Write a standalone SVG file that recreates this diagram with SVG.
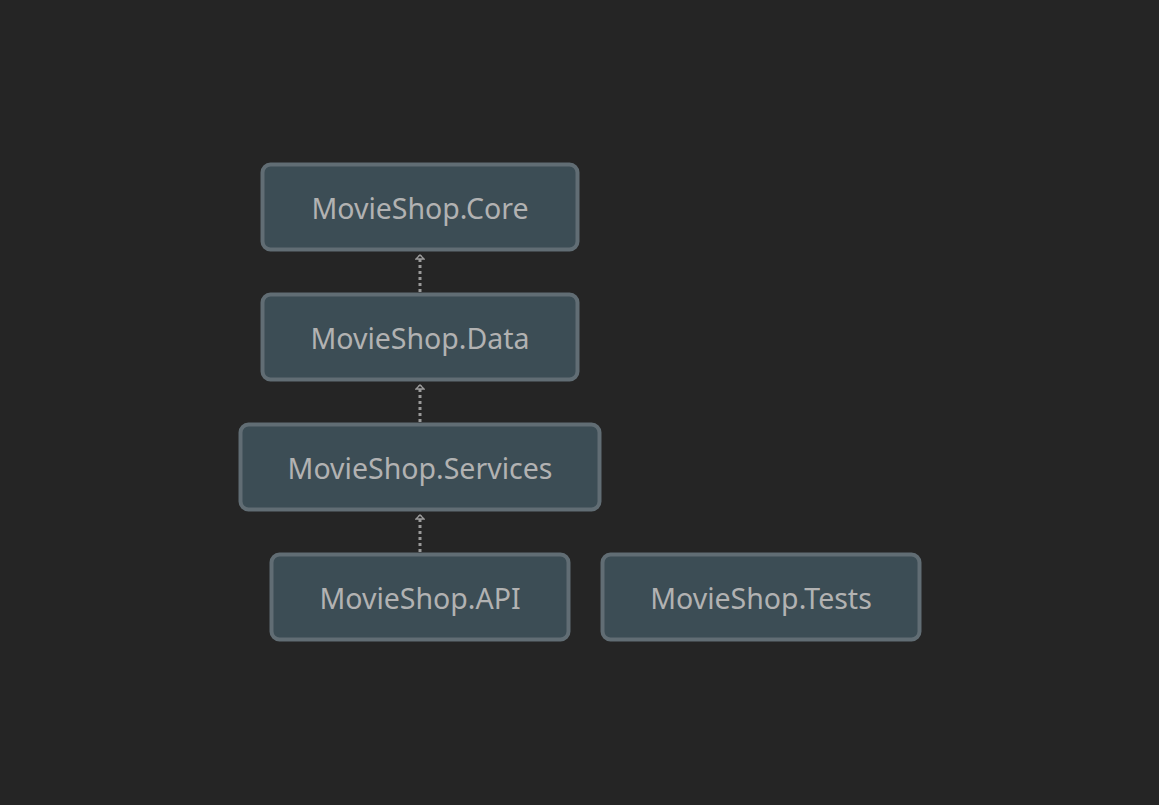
<svg xmlns="http://www.w3.org/2000/svg" width="1159" height="805" viewBox="0 0 1159 805">
<style>
.n rect{fill:#3c4d55;stroke:#616d74;stroke-width:4}
.n text{font-family:"Noto Sans","Open Sans",sans-serif;font-size:28.5px;fill:#b2b2b2;text-anchor:middle;dominant-baseline:central}
.e{stroke:#9a9a9a;stroke-width:3;stroke-dasharray:3 3;fill:none}
</style>
<defs>
<marker id="ah" markerWidth="10" markerHeight="8" refX="5" refY="1" orient="0" markerUnits="userSpaceOnUse" viewBox="0 0 10 8">
<path d="M1,5 L5,1 L9,5 Z" fill="#252525" stroke="#9a9a9a" stroke-width="1.3"/>
</marker>
</defs>
<rect width="1159" height="805" fill="#252525"/>
<g id="connectors">
<line class="e" x1="420" y1="292" x2="420" y2="255" marker-end="url(#ah)"/>
<line class="e" x1="420" y1="422" x2="420" y2="385" marker-end="url(#ah)"/>
<line class="e" x1="420" y1="552" x2="420" y2="515" marker-end="url(#ah)"/>
</g>
<g id="core" class="n"><rect x="262.5" y="164.5" width="315" height="85" rx="8"/><text x="420" y="208">MovieShop.Core</text></g>
<g id="data" class="n"><rect x="262.5" y="294.5" width="315" height="85" rx="8"/><text x="420" y="338">MovieShop.Data</text></g>
<g id="services" class="n"><rect x="240.5" y="424.5" width="359" height="85" rx="8"/><text x="420" y="468">MovieShop.Services</text></g>
<g id="api" class="n"><rect x="271.5" y="554.5" width="297" height="85" rx="8"/><text x="420" y="598">MovieShop.API</text></g>
<g id="tests" class="n"><rect x="602.5" y="554.5" width="317" height="85" rx="8"/><text x="761" y="598">MovieShop.Tests</text></g>
</svg>
